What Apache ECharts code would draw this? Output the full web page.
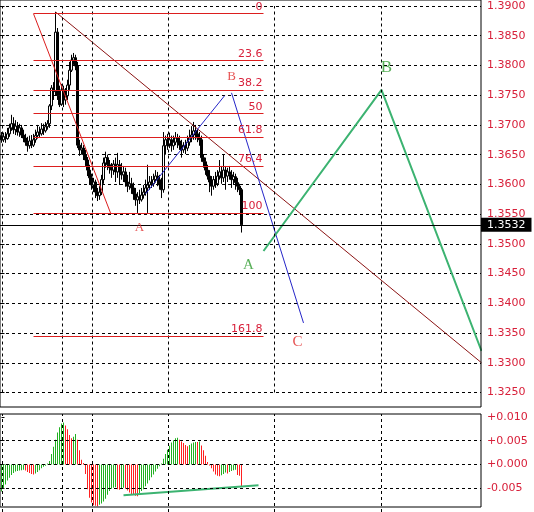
<!DOCTYPE html>
<html><head><meta charset="utf-8">
<script src="https://cdn.jsdelivr.net/npm/echarts@6.0.0/dist/echarts.min.js"></script>
<style>html,body{margin:0;padding:0;background:#fff}#c{width:534px;height:512px}</style>
</head><body><div id="c"></div>
<script>
// candles: [open, close, low, high], one per bar index
const ohlc = [
[1.3682,1.3675,1.3670,1.3688],[1.3675,1.3680,1.3671,1.3687],[1.3680,1.3677,1.3670,1.3688],[1.3677,1.3685,1.3675,1.3695],
[1.3685,1.3695,1.3680,1.3702],[1.3695,1.3702,1.3690,1.3717],[1.3702,1.3692,1.3685,1.3713],[1.3692,1.3698,1.3683,1.3708],
[1.3698,1.3688,1.3682,1.3705],[1.3688,1.3695,1.3680,1.3702],[1.3695,1.3683,1.3678,1.3700],[1.3683,1.3678,1.3671,1.3692],
[1.3678,1.3671,1.3665,1.3685],[1.3671,1.3665,1.3655,1.3680],[1.3665,1.3673,1.3660,1.3682],[1.3673,1.3666,1.3661,1.3683],
[1.3666,1.3675,1.3663,1.3685],[1.3675,1.3682,1.3670,1.3692],[1.3682,1.3688,1.3677,1.3700],[1.3688,1.3685,1.3678,1.3697],
[1.3685,1.3693,1.3682,1.3703],[1.3693,1.3690,1.3683,1.3702],[1.3690,1.3697,1.3687,1.3705],[1.3697,1.3702,1.3692,1.3708],
[1.3702,1.3732,1.3695,1.3735],[1.3732,1.3762,1.3725,1.3767],[1.3762,1.3756,1.3742,1.3772],[1.3756,1.3856,1.3749,1.3890],
[1.3856,1.3750,1.3742,1.3863],[1.3750,1.3734,1.3730,1.3766],[1.3735,1.3759,1.3732,1.3769],[1.3759,1.3742,1.3730,1.3766],
[1.3742,1.3750,1.3734,1.3762],[1.3749,1.3767,1.3742,1.3776],[1.3767,1.3792,1.3759,1.3806],[1.3792,1.3809,1.3789,1.3818],
[1.3809,1.3813,1.3801,1.3821],[1.3813,1.3799,1.3792,1.3818],[1.3799,1.3666,1.3661,1.3806],[1.3666,1.3658,1.3648,1.3675],
[1.3658,1.3661,1.3650,1.3670],[1.3661,1.3650,1.3641,1.3666],[1.3650,1.3641,1.3631,1.3658],[1.3641,1.3624,1.3614,1.3646],
[1.3624,1.3611,1.3599,1.3633],[1.3611,1.3599,1.3591,1.3618],[1.3599,1.3604,1.3587,1.3611],[1.3604,1.3587,1.3577,1.3608],
[1.3587,1.3581,1.3572,1.3594],[1.3581,1.3587,1.3574,1.3597],[1.3587,1.3608,1.3582,1.3616],[1.3608,1.3636,1.3601,1.3645],
[1.3636,1.3645,1.3628,1.3655],[1.3645,1.3633,1.3624,1.3650],[1.3633,1.3628,1.3618,1.3641],[1.3628,1.3624,1.3611,1.3636],
[1.3624,1.3634,1.3616,1.3641],[1.3634,1.3621,1.3604,1.3645],[1.3621,1.3633,1.3611,1.3653],[1.3633,1.3621,1.3599,1.3641],
[1.3621,1.3616,1.3608,1.3636],[1.3616,1.3621,1.3604,1.3631],[1.3621,1.3604,1.3596,1.3628],[1.3604,1.3597,1.3587,1.3616],
[1.3597,1.3601,1.3591,1.3621],[1.3601,1.3594,1.3584,1.3611],[1.3594,1.3584,1.3574,1.3603],[1.3584,1.3574,1.3564,1.3594],
[1.3574,1.3579,1.3552,1.3587],[1.3579,1.3574,1.3567,1.3591],[1.3574,1.3582,1.3571,1.3594],[1.3582,1.3587,1.3576,1.3599],
[1.3587,1.3594,1.3581,1.3608],[1.3594,1.3599,1.3552,1.3633],[1.3599,1.3604,1.3591,1.3614],[1.3604,1.3601,1.3594,1.3614],
[1.3601,1.3608,1.3596,1.3618],[1.3608,1.3614,1.3603,1.3624],[1.3614,1.3608,1.3597,1.3621],[1.3608,1.3599,1.3591,1.3616],
[1.3599,1.3591,1.3577,1.3611],[1.3591,1.3665,1.3586,1.3688],[1.3665,1.3675,1.3650,1.3682],[1.3675,1.3668,1.3658,1.3685],
[1.3668,1.3675,1.3661,1.3687],[1.3675,1.3665,1.3655,1.3682],[1.3665,1.3671,1.3658,1.3682],[1.3671,1.3678,1.3666,1.3688],
[1.3678,1.3673,1.3661,1.3685],[1.3673,1.3666,1.3658,1.3682],[1.3666,1.3658,1.3645,1.3675],[1.3658,1.3665,1.3653,1.3671],
[1.3665,1.3661,1.3651,1.3675],[1.3661,1.3671,1.3656,1.3682],[1.3671,1.3678,1.3665,1.3692],[1.3678,1.3683,1.3671,1.3698],
[1.3683,1.3690,1.3675,1.3705],[1.3690,1.3685,1.3675,1.3700],[1.3685,1.3678,1.3671,1.3693],[1.3678,1.3675,1.3665,1.3688],
[1.3675,1.3645,1.3638,1.3682],[1.3645,1.3638,1.3628,1.3651],[1.3638,1.3624,1.3616,1.3645],[1.3624,1.3614,1.3608,1.3633],
[1.3614,1.3604,1.3587,1.3624],[1.3604,1.3597,1.3581,1.3614],[1.3597,1.3608,1.3591,1.3614],[1.3608,1.3601,1.3594,1.3621],
[1.3601,1.3614,1.3597,1.3624],[1.3614,1.3621,1.3608,1.3641],[1.3621,1.3611,1.3601,1.3631],[1.3611,1.3624,1.3604,1.3650],
[1.3624,1.3614,1.3591,1.3631],[1.3614,1.3621,1.3604,1.3628],[1.3621,1.3616,1.3608,1.3631],[1.3616,1.3608,1.3594,1.3624],
[1.3608,1.3613,1.3599,1.3621],[1.3613,1.3603,1.3591,1.3618],[1.3603,1.3597,1.3587,1.3611],[1.3597,1.3591,1.3582,1.3601],
[1.3591,1.3532,1.3519,1.3594]
];
// oscillator histogram, one per bar index
const osc = [
-0.0057,-0.0050,-0.0042,-0.0034,-0.0028,-0.0022,-0.0018,-0.0015,-0.0014,-0.0013,-0.0012,-0.0011,
-0.0013,-0.0016,-0.0018,-0.0020,-0.0021,-0.0019,-0.0016,-0.0012,-0.0008,-0.0005,-0.0003,0.0002,
0.0007,0.0022,0.0037,0.0052,0.0067,0.0078,0.0086,0.0088,0.0082,0.0074,0.0062,0.0055,
0.0058,0.0064,0.0052,0.0030,0.0010,0.0003,-0.0020,-0.0052,-0.0070,-0.0080,-0.0086,-0.0087,
-0.0088,-0.0085,-0.0082,-0.0078,-0.0072,-0.0064,-0.0056,-0.0051,-0.0049,-0.0048,-0.0052,-0.0053,
-0.0050,-0.0049,-0.0051,-0.0055,-0.0059,-0.0062,-0.0064,-0.0066,-0.0067,-0.0060,-0.0056,-0.0052,
-0.0046,-0.0040,-0.0033,-0.0027,-0.0021,-0.0015,-0.0009,-0.0004,0.0002,0.0012,0.0022,0.0031,
0.0039,0.0046,0.0051,0.0055,0.0056,0.0052,0.0048,0.0045,0.0041,0.0038,0.0041,0.0044,
0.0046,0.0047,0.0047,0.0048,0.0040,0.0030,0.0018,0.0005,-0.0002,-0.0008,-0.0015,-0.0021,
-0.0024,-0.0025,-0.0023,-0.0020,-0.0017,-0.0019,-0.0016,-0.0014,-0.0012,-0.0011,-0.0022,-0.0024,
-0.0046
];
const timeGrid = [0.5, 30.5, 45.5, 83.5, 136.5, 190];
const oscGridVals = [0.005, 0, -0.005];
const lastPrice = 1.3532;
const fibHigh = 1.3887, fibLow = 1.3552;
const fibStart = 16, fibEnd = 131;
const fibRatios = [0, 23.6, 38.2, 50, 61.8, 76.4, 100, 161.8];
const fibBase = [[16, 1.3887], [54.5, 1.3552]];
const trendLine = [[27, 1.3890], [240, 1.3300]];
const blueUp = [[72, 1.3584], [111.5, 1.3749]];
const blueDown = [[115, 1.3754], [151, 1.3367]];
const greenWave = [[131, 1.3488], [190, 1.3759], [240, 1.3320]];
const oscTrend = [[61, -0.0065], [128.5, -0.0044]];
const redLabels = [['A', 69, 1.3527], ['B', 115, 1.3781], ['C', 148, 1.3335]];
const greenLabels = [['A', 123.5, 1.3465], ['B', 192.5, 1.3796]];

const RED_TXT = '#d8203a', FIB = '#dc1e1e', GREEN_BAR = '#22b022', RED_BAR = '#ff2020', SEA = '#3cb371';
const dash = [3, 3];
const font = 'DejaVu Sans';
const fibLevels = fibRatios.map(r => ({ r, p: fibHigh - r / 100 * (fibHigh - fibLow) }));

const chart = echarts.init(document.getElementById('c'));
chart.setOption({
  animation: false,
  backgroundColor: '#fff',
  grid: [
    { left: 0, top: 6, width: 481, height: 386.5 },
    { left: 0, top: 414, width: 481, height: 100 },
    { left: 0, top: 0, width: 481, height: 407, show: true, borderColor: '#000', borderWidth: 1, backgroundColor: 'rgba(0,0,0,0)', z: 10 },
    { left: 0, top: 414, width: 481, height: 93, show: true, borderColor: '#000', borderWidth: 1, backgroundColor: 'rgba(0,0,0,0)', z: 10 }
  ],
  xAxis: [
    { gridIndex: 0, type: 'value', min: -0.75, max: 239.75, show: false },
    { gridIndex: 1, type: 'value', min: -0.75, max: 239.75, show: false },
    { gridIndex: 2, type: 'value', show: false },
    { gridIndex: 3, type: 'value', show: false }
  ],
  yAxis: [
    { gridIndex: 0, type: 'value', position: 'right', min: 1.325, max: 1.39, interval: 0.005,
      axisLine: { show: false }, axisTick: { show: true, length: 3, lineStyle: { color: '#000' } },
      axisLabel: { color: RED_TXT, fontFamily: font, fontSize: 11, margin: 6, padding: [5, 0, 0, 0], formatter: v => v.toFixed(4) },
      splitLine: { show: true, lineStyle: { color: '#000', type: dash, width: 1 } } },
    { gridIndex: 1, type: 'value', position: 'right', min: -0.010, max: 0.0106, interval: 0.005,
      axisLine: { show: false }, axisTick: { show: true, length: 3, lineStyle: { color: '#000' } },
      axisLabel: { color: RED_TXT, fontFamily: font, fontSize: 11, margin: 6, padding: [3, 0, 0, 0], showMinLabel: false, showMaxLabel: false,
        formatter: v => (Math.abs(v) < 1e-9 ? '+0.000' : (v > 0 ? '+' : '') + v.toFixed(3)) },
      splitLine: { show: false } },
    { gridIndex: 2, type: 'value', show: false },
    { gridIndex: 3, type: 'value', show: false }
  ],
  series: [
    { type: 'line', xAxisIndex: 0, yAxisIndex: 0, data: [], z: 1, silent: true,
      markLine: { silent: true, animation: false, symbol: ['none', 'none'], label: { show: false }, precision: 6,
        lineStyle: { color: '#000', type: dash, width: 1 }, data: timeGrid.map(x => ({ xAxis: x })) } },
    { type: 'line', xAxisIndex: 1, yAxisIndex: 1, data: [], z: 1, silent: true,
      markLine: { silent: true, animation: false, symbol: ['none', 'none'], label: { show: false }, precision: 6,
        lineStyle: { color: '#000', type: dash, width: 1 },
        data: timeGrid.map(x => ({ xAxis: x })).concat(oscGridVals.map(v => ({ yAxis: v }))) } },
    { type: 'candlestick', xAxisIndex: 0, yAxisIndex: 0, z: 3, barWidth: 2.6,
      data: ohlc.map((r, i) => [i, r[0], r[1], r[2], r[3]]),
      itemStyle: { color: '#fff', color0: '#000', borderColor: '#000', borderColor0: '#000', borderWidth: 1 } },
    { type: 'line', xAxisIndex: 0, yAxisIndex: 0, data: [], z: 6, silent: true,
      markLine: { silent: true, animation: false, symbol: ['none', 'none'], precision: 6,
        lineStyle: { color: '#000', type: 'solid', width: 1 },
        label: { show: true, position: 'end', distance: 0, formatter: lastPrice.toFixed(4), color: '#fff', backgroundColor: '#000',
          padding: [2, 6, 1, 6], fontFamily: font, fontSize: 11 },
        data: [{ yAxis: lastPrice }] } },
    { type: 'line', xAxisIndex: 0, yAxisIndex: 0, data: [], z: 4, silent: true,
      markLine: { silent: true, animation: false, symbol: ['none', 'none'], precision: 6,
        lineStyle: { color: FIB, type: 'solid', width: 1 },
        label: { show: true, position: 'insideEndTop', distance: 1, color: RED_TXT, fontFamily: font, fontSize: 11, formatter: p => p.name },
        data: fibLevels.map(l => [{ name: String(l.r), coord: [fibStart, l.p] }, { coord: [fibEnd, l.p] }]) } },
    { type: 'line', xAxisIndex: 0, yAxisIndex: 0, data: fibBase, symbol: 'none', z: 4, lineStyle: { color: FIB, width: 1 } },
    { type: 'line', xAxisIndex: 0, yAxisIndex: 0, data: trendLine, symbol: 'none', z: 4, lineStyle: { color: '#8b1414', width: 1 } },
    { type: 'line', xAxisIndex: 0, yAxisIndex: 0, data: blueUp, symbol: 'none', z: 4, lineStyle: { color: '#2525c8', width: 1 } },
    { type: 'line', xAxisIndex: 0, yAxisIndex: 0, data: blueDown, symbol: 'none', z: 4, lineStyle: { color: '#2525c8', width: 1 } },
    { type: 'line', xAxisIndex: 0, yAxisIndex: 0, data: greenWave, symbol: 'none', z: 4, lineStyle: { color: SEA, width: 2 } },
    { type: 'scatter', xAxisIndex: 0, yAxisIndex: 0, z: 5, symbolSize: 1, itemStyle: { color: 'rgba(0,0,0,0)' },
      data: redLabels.map(l => ({ name: l[0], value: [l[1], l[2]], label: { fontSize: l[0] === 'C' ? 15 : 13 } })),
      label: { show: true, position: 'inside', formatter: '{b}', color: '#e02828', fontFamily: 'Liberation Serif', fontSize: 13 } },
    { type: 'scatter', xAxisIndex: 0, yAxisIndex: 0, z: 5, symbolSize: 1, itemStyle: { color: 'rgba(0,0,0,0)' },
      data: greenLabels.map(l => ({ name: l[0], value: [l[1], l[2]], label: { fontSize: l[0] === 'B' ? 17 : 15 } })),
      label: { show: true, position: 'inside', formatter: '{b}', color: '#2e9b2e', fontFamily: 'Liberation Serif', fontSize: 15 } },
    { type: 'custom', xAxisIndex: 1, yAxisIndex: 1, z: 3, silent: true,
      data: osc.map((v, i) => [i, v]),
      encode: { x: 0, y: 1 },
      renderItem: (params, api) => {
        const i = params.dataIndex;
        const v = api.value(1);
        const p0 = api.coord([api.value(0), 0]);
        const p1 = api.coord([api.value(0), v]);
        const up = i === 0 || osc[i] > osc[i - 1];
        return { type: 'rect', shape: { x: Math.round(p0[0] - 0.5), y: Math.min(p0[1], p1[1]), width: 1, height: Math.abs(p1[1] - p0[1]) },
          style: { fill: up ? GREEN_BAR : RED_BAR, stroke: null, lineWidth: 0 } };
      } },
    { type: 'line', xAxisIndex: 1, yAxisIndex: 1, data: oscTrend, symbol: 'none', z: 4, lineStyle: { color: SEA, width: 2 } }
  ]
});
</script>
</body></html>
